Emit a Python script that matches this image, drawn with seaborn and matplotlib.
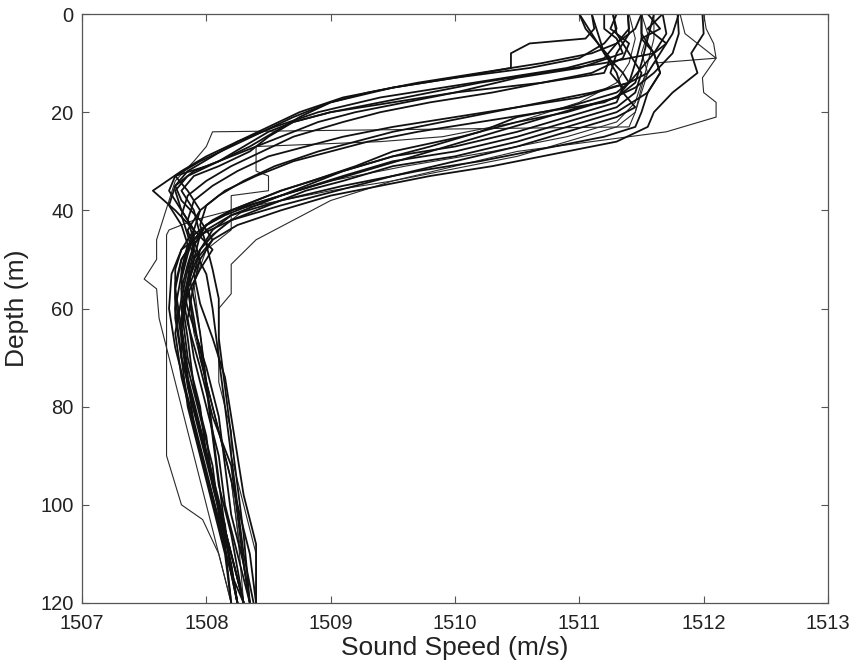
import matplotlib
matplotlib.use("Agg")
import matplotlib.pyplot as plt
import seaborn as sns
import pandas as pd

# ---- CTD casts: depth (m) and sound speed (m/s) ----
a1_z = [0, 3, 5, 6, 8, 11, 13, 15, 18, 21, 24, 27, 30, 33, 36, 40, 44, 48, 53, 60, 70, 80, 90, 100, 110, 120]
a1_c = [1511.10, 1511.12, 1511.05, 1510.6, 1510.45, 1510.45, 1510.0, 1509.5, 1509.0, 1508.7, 1508.45, 1508.2,
        1507.95, 1507.75, 1507.7, 1507.8, 1507.9, 1507.85, 1507.8, 1507.75, 1507.8, 1507.9, 1508.0, 1508.1, 1508.2, 1508.3]

a2_z = [0, 3, 6, 9, 11, 13, 15, 17, 20, 23, 26, 29, 32, 35, 39, 43, 47, 52, 58, 66, 76, 86, 96, 106, 120]
a2_c = [1511.27, 1511.3, 1511.2, 1511.0, 1510.6, 1510.0, 1509.5, 1509.1, 1508.75, 1508.5, 1508.25, 1508.05,
        1507.85, 1507.75, 1507.7, 1507.8, 1507.85, 1507.8, 1507.8, 1507.85, 1507.9, 1508.0, 1508.05, 1508.15, 1508.25]

a3_z = [0, 3, 6, 9, 11, 13, 15, 17, 20, 23, 26, 29, 32, 36, 40, 44, 48, 52, 57, 64, 72, 82, 92, 102, 112, 120]
a3_c = [1511.39, 1511.4, 1511.3, 1511.2, 1510.9, 1510.4, 1509.9, 1509.4, 1508.9, 1508.55, 1508.25, 1508.0,
        1507.8, 1507.57, 1507.75, 1507.9, 1508.05, 1507.95, 1507.85, 1507.8, 1507.85, 1507.95, 1508.05, 1508.1, 1508.2, 1508.25]

a4_z = [0, 3, 6, 9, 12, 14, 16, 18, 20, 22, 25, 28, 31, 33, 36, 40, 45, 50, 55, 62, 70, 80, 90, 100, 110, 120]
a4_c = [1511.0, 1511.05, 1511.15, 1511.25, 1511.2, 1510.7, 1510.0, 1509.5, 1509.0, 1508.7, 1508.5, 1508.35,
        1508.1, 1507.9, 1507.8, 1507.9, 1507.95, 1507.9, 1507.85, 1507.8, 1507.8, 1507.85, 1507.95, 1508.05, 1508.15, 1508.2]

a5_z = [0, 4, 8, 12, 16, 20, 23, 24, 27, 30, 34, 38, 42, 46, 50, 54, 56, 62, 70, 80, 90, 100, 110, 120]
a5_c = [1511.5, 1511.55, 1511.5, 1511.55, 1511.5, 1511.45, 1511.4, 1508.05, 1508.0, 1507.9, 1507.75, 1507.7,
        1507.65, 1507.6, 1507.6, 1507.5, 1507.6, 1507.62, 1507.7, 1507.8, 1507.9, 1508.0, 1508.1, 1508.2]

a6_z = [0, 3, 5, 8, 10, 12, 14, 16, 18, 20, 22, 24, 27, 30, 33, 36, 40, 44, 48, 54, 60, 70, 80, 90, 100, 110, 120]
a6_c = [1511.55, 1511.65, 1511.5, 1511.6, 1511.2, 1510.7, 1510.2, 1509.8, 1509.4, 1509.0, 1508.7, 1508.5,
        1508.3, 1508.1, 1507.85, 1507.75, 1507.8, 1507.9, 1507.9, 1507.85, 1507.8, 1507.85, 1507.95, 1508.0,
        1508.1, 1508.2, 1508.3]

a7_z = [0, 3, 5, 8, 11, 13, 16, 18, 20, 22, 25, 28, 31, 33, 36, 40, 44, 48, 52, 58, 66, 76, 86, 96, 106, 120]
a7_c = [1511.2, 1511.2, 1511.3, 1511.35, 1511.0, 1510.5, 1510.0, 1509.6, 1509.2, 1508.9, 1508.6, 1508.3,
        1508.0, 1507.75, 1507.85, 1507.95, 1507.9, 1507.8, 1507.75, 1507.75, 1507.8, 1507.85, 1507.95, 1508.05, 1508.15, 1508.25]

e1_z = [0, 3, 6, 8, 10, 12, 14, 16, 18, 21, 24, 27, 30, 32, 35, 38, 42, 46, 50, 56, 64, 72, 82, 92, 102, 112, 120]
e1_c = [1511.5, 1511.45, 1511.3, 1511.1, 1510.7, 1510.2, 1509.7, 1509.3, 1509.0, 1508.75, 1508.55, 1508.35,
        1508.1, 1507.9, 1507.75, 1507.8, 1507.95, 1508.05, 1507.95, 1507.85, 1507.9, 1508.0, 1508.1, 1508.15,
        1508.2, 1508.3, 1508.35]

e4_z = [0, 3, 6, 9, 12, 14, 16, 18, 20, 22, 25, 28, 31, 34, 37, 41, 45, 50, 56, 64, 74, 84, 94, 104, 114, 120]
e4_c = [1511.3, 1511.25, 1511.4, 1511.35, 1511.1, 1510.7, 1510.3, 1509.8, 1509.4, 1509.1, 1508.7, 1508.45,
        1508.2, 1508.0, 1507.85, 1507.8, 1507.85, 1507.9, 1507.85, 1507.8, 1507.85, 1507.95, 1508.05, 1508.15,
        1508.2, 1508.3]

b1_z = [0, 3, 6, 8, 11, 14, 17, 19, 21, 23, 25, 27, 29, 32, 35, 38, 42, 46, 50, 55, 62, 70, 80, 90, 100, 110, 120]
b1_c = [1511.67, 1511.55, 1511.7, 1511.6, 1511.5, 1511.4, 1511.0, 1510.5, 1510.0, 1509.5, 1509.1, 1508.8,
        1508.5, 1508.25, 1508.05, 1507.9, 1507.85, 1507.9, 1507.95, 1507.9, 1507.85, 1507.9, 1508.0, 1508.1,
        1508.15, 1508.25, 1508.35]

b2_z = [0, 4, 8, 12, 15, 18, 20, 22, 24, 26, 28, 30, 33, 36, 39, 43, 47, 52, 58, 66, 76, 86, 96, 106, 120]
b2_c = [1511.79, 1511.8, 1511.75, 1511.6, 1511.45, 1511.2, 1510.7, 1510.2, 1509.7, 1509.3, 1509.0, 1508.7,
        1508.4, 1508.15, 1508.0, 1507.95, 1508.0, 1508.05, 1508.1, 1508.1, 1508.15, 1508.2, 1508.25, 1508.3, 1508.35]

b3_z = [0, 5, 10, 14, 18, 22, 25, 26, 27, 32, 33, 36, 37, 44, 48, 55, 65, 75, 85, 95, 105, 120]
b3_c = [1511.4, 1511.45, 1511.4, 1511.3, 1511.0, 1510.5, 1509.9, 1509.4, 1508.4, 1508.4, 1508.5, 1508.5,
        1508.2, 1508.2, 1508.0, 1507.9, 1507.95, 1508.0, 1508.1, 1508.2, 1508.25, 1508.3]

e2_z = [0, 4, 8, 12, 14, 16, 18, 20, 22, 24, 26, 28, 31, 34, 37, 40, 44, 48, 53, 60, 70, 80, 90, 100, 110, 120]
e2_c = [1511.8, 1511.75, 1511.65, 1511.55, 1511.4, 1511.1, 1510.7, 1510.3, 1509.9, 1509.5, 1509.2, 1508.9,
        1508.55, 1508.3, 1508.1, 1507.95, 1507.85, 1507.9, 1508.0, 1508.05, 1508.1, 1508.15, 1508.2, 1508.25,
        1508.35, 1508.4]

c1_z = [0, 5, 10, 14, 17, 20, 22, 25, 28, 31, 34, 36, 38, 40, 42, 45, 49, 54, 60, 68, 76, 86, 96, 106, 120]
c1_c = [1511.5, 1511.5, 1511.45, 1511.4, 1511.3, 1510.9, 1510.5, 1510.05, 1509.5, 1509.2, 1508.85, 1508.6,
        1508.4, 1508.2, 1508.05, 1507.9, 1507.85, 1507.8, 1507.85, 1507.95, 1508.0, 1508.05, 1508.1, 1508.2, 1508.3]

c2_z = [0, 4, 8, 12, 15, 18, 21, 24, 27, 29, 32, 35, 37, 39, 41, 44, 47, 51, 56, 63, 72, 82, 92, 102, 112, 120]
c2_c = [1511.39, 1511.4, 1511.3, 1511.25, 1511.35, 1511.3, 1510.9, 1510.5, 1510.0, 1509.5, 1509.1, 1508.8,
        1508.6, 1508.4, 1508.2, 1508.0, 1507.9, 1507.85, 1507.8, 1507.85, 1507.95, 1508.05, 1508.2, 1508.25,
        1508.3, 1508.35]

c3_z = [0, 4, 8, 12, 16, 19, 22, 25, 28, 30, 33, 35, 37, 40, 43, 47, 52, 58, 65, 75, 85, 95, 105, 120]
c3_c = [1511.27, 1511.3, 1511.4, 1511.5, 1511.45, 1511.3, 1510.9, 1510.5, 1510.0, 1509.5, 1509.1, 1508.85,
        1508.6, 1508.2, 1508.0, 1507.9, 1507.85, 1507.9, 1507.95, 1508.0, 1508.05, 1508.1, 1508.15, 1508.25]

c4_z = [0, 4, 8, 12, 16, 20, 23, 26, 29, 31, 34, 36, 38, 40, 42, 45, 48, 52, 58, 65, 74, 84, 94, 104, 114, 120]
c4_c = [1511.5, 1511.5, 1511.6, 1511.65, 1511.55, 1511.3, 1510.9, 1510.5, 1510.0, 1509.5, 1509.1, 1508.8,
        1508.6, 1508.4, 1508.2, 1508.05, 1507.95, 1507.85, 1507.8, 1507.75, 1507.8, 1507.9, 1508.0, 1508.1,
        1508.2, 1508.25]

c5_z = [0, 4, 8, 12, 16, 20, 23, 25, 27, 30, 32, 35, 38, 41, 44, 48, 53, 59, 66, 74, 82, 90, 98, 108, 120]
c5_c = [1511.67, 1511.7, 1511.6, 1511.65, 1511.55, 1511.5, 1511.45, 1511.2, 1510.8, 1510.2, 1509.7, 1509.1,
        1508.6, 1508.2, 1508.05, 1507.95, 1507.9, 1507.95, 1508.05, 1508.15, 1508.2, 1508.25, 1508.3, 1508.4, 1508.4]

c6_z = [0, 3, 6, 9, 13, 16, 18, 21, 24, 25, 28, 31, 34, 38, 42, 46, 51, 57, 60, 75, 85, 90, 100, 110, 120]
c6_c = [1512.0, 1512.02, 1512.08, 1512.1, 1511.99, 1512.0, 1512.1, 1512.1, 1511.7, 1511.4, 1510.5, 1510.0,
        1509.5, 1509.0, 1508.7, 1508.4, 1508.2, 1508.2, 1508.1, 1508.1, 1508.2, 1508.2, 1508.3, 1508.4, 1508.4]

c7_z = [0, 4, 8, 12, 16, 19, 21, 24, 27, 30, 33, 36, 39, 42, 45, 48, 53, 60, 68, 78, 88, 98, 108, 120]
c7_c = [1511.1, 1511.15, 1511.2, 1511.3, 1511.35, 1511.45, 1511.3, 1510.9, 1510.5, 1510.0, 1509.5, 1509.05,
        1508.6, 1508.2, 1507.95, 1507.8, 1507.72, 1507.7, 1507.75, 1507.85, 1507.95, 1508.05, 1508.15, 1508.2]

c8_z = [0, 5, 10, 15, 20, 23, 26, 29, 32, 34, 36, 38, 40, 42, 44, 45, 90, 100, 103, 110, 120]
c8_c = [1511.6, 1511.6, 1511.55, 1511.5, 1511.45, 1511.3, 1510.9, 1510.5, 1509.9, 1509.5, 1509.0, 1508.6,
        1508.2, 1507.9, 1507.7, 1507.68, 1507.68, 1507.8, 1507.97, 1508.1, 1508.2]

c9_z = [0, 4, 8, 12, 16, 20, 23, 26, 28, 31, 33, 35, 37, 40, 43, 46, 50, 55, 62, 70, 80, 90, 100, 110, 120]
c9_c = [1511.99, 1512.0, 1511.9, 1511.95, 1511.75, 1511.6, 1511.55, 1511.3, 1510.9, 1510.3, 1509.8, 1509.4,
        1509.0, 1508.6, 1508.25, 1508.05, 1507.92, 1507.85, 1507.9, 1507.95, 1508.05, 1508.15, 1508.25, 1508.3, 1508.38]

c10_z = [0, 4, 8, 12, 14, 16, 19, 21, 24, 27, 29, 32, 34, 36, 38, 40, 43, 46, 50, 56, 64, 74, 84, 94, 104, 114, 120]
c10_c = [1511.0, 1511.1, 1511.2, 1511.35, 1511.4, 1511.3, 1510.9, 1510.5, 1510.2, 1509.8, 1509.5, 1509.1,
         1508.85, 1508.6, 1508.4, 1508.2, 1508.0, 1507.9, 1507.8, 1507.75, 1507.8, 1507.85, 1507.9, 1508.0,
         1508.1, 1508.2, 1508.25]

e3_z = [0, 5, 10, 14, 17, 19, 22, 25, 28, 31, 34, 37, 39, 41, 43, 46, 50, 55, 62, 70, 80, 90, 100, 110, 120]
e3_c = [1511.6, 1511.55, 1511.5, 1511.45, 1511.3, 1511.0, 1510.6, 1510.2, 1509.8, 1509.4, 1509.0, 1508.6,
        1508.35, 1508.15, 1508.0, 1507.9, 1507.8, 1507.75, 1507.75, 1507.8, 1507.9, 1508.0, 1508.1, 1508.2, 1508.3]

d1_z = [0, 4, 8, 9, 10, 14, 18, 22, 25, 28, 31, 34, 37, 40, 44, 48, 55, 65, 75, 85, 95, 105, 120]
d1_c = [1511.81, 1511.85, 1512.05, 1512.1, 1511.6, 1511.5, 1511.45, 1511.3, 1510.9, 1510.3, 1509.6, 1509.0,
        1508.6, 1508.3, 1508.1, 1507.95, 1507.85, 1507.9, 1508.0, 1508.1, 1508.2, 1508.25, 1508.35]

thick_casts = {
    "a1": (a1_z, a1_c), "a2": (a2_z, a2_c), "a3": (a3_z, a3_c), "a4": (a4_z, a4_c),
    "a6": (a6_z, a6_c), "a7": (a7_z, a7_c), "e1": (e1_z, e1_c), "e4": (e4_z, e4_c),
    "b1": (b1_z, b1_c), "b2": (b2_z, b2_c), "e2": (e2_z, e2_c), "c1": (c1_z, c1_c),
    "c2": (c2_z, c2_c), "c3": (c3_z, c3_c), "c4": (c4_z, c4_c), "c5": (c5_z, c5_c),
    "c7": (c7_z, c7_c), "c9": (c9_z, c9_c), "c10": (c10_z, c10_c), "e3": (e3_z, e3_c),
}
thin_casts = {
    "a5": (a5_z, a5_c), "b3": (b3_z, b3_c), "c6": (c6_z, c6_c), "c8": (c8_z, c8_c),
    "d1": (d1_z, d1_c),
}


def to_frame(casts):
    rows = []
    for name, (z, c) in casts.items():
        for i, (dz, sc) in enumerate(zip(z, c)):
            rows.append({"cast": name, "order": i, "depth": dz, "speed": sc})
    return pd.DataFrame(rows)


thick_df = to_frame(thick_casts)
thin_df = to_frame(thin_casts)

sns.set_theme(style="ticks")
plt.rcParams["font.family"] = ["Liberation Sans", "DejaVu Sans"]

fig = plt.figure(figsize=(8.6, 6.68), dpi=100)
ax = fig.add_axes([82 / 860, 1 - 603 / 668, (828 - 82) / 860, (603 - 14) / 668])

sns.lineplot(data=thin_df, x="speed", y="depth", units="cast", estimator=None, sort=False,
             color="#2a2a2a", linewidth=0.8, legend=False, ax=ax)
sns.lineplot(data=thick_df, x="speed", y="depth", units="cast", estimator=None, sort=False,
             color="#111111", linewidth=1.3, legend=False, ax=ax)

ax.set_xlim(1507, 1513)
ax.set_ylim(120, 0)
ax.set_xticks([1507, 1508, 1509, 1510, 1511, 1512, 1513])
ax.set_yticks([0, 20, 40, 60, 80, 100, 120])
ax.tick_params(direction="in", length=5, width=0.8, color="#555555", labelsize=14.5,
               top=True, right=True, labelcolor="#222222")
ax.tick_params(axis="x", pad=8)
ax.tick_params(axis="y", pad=6)
for sp in ax.spines.values():
    sp.set_color("#555555")
    sp.set_linewidth(0.9)
    sp.set_visible(True)

ax.set_xlabel("Sound Speed (m/s)", fontsize=19, color="#222222", labelpad=2)
ax.set_ylabel("Depth (m)", fontsize=19, color="#222222", labelpad=8)

fig.savefig("out.png", dpi=100, facecolor="white")
